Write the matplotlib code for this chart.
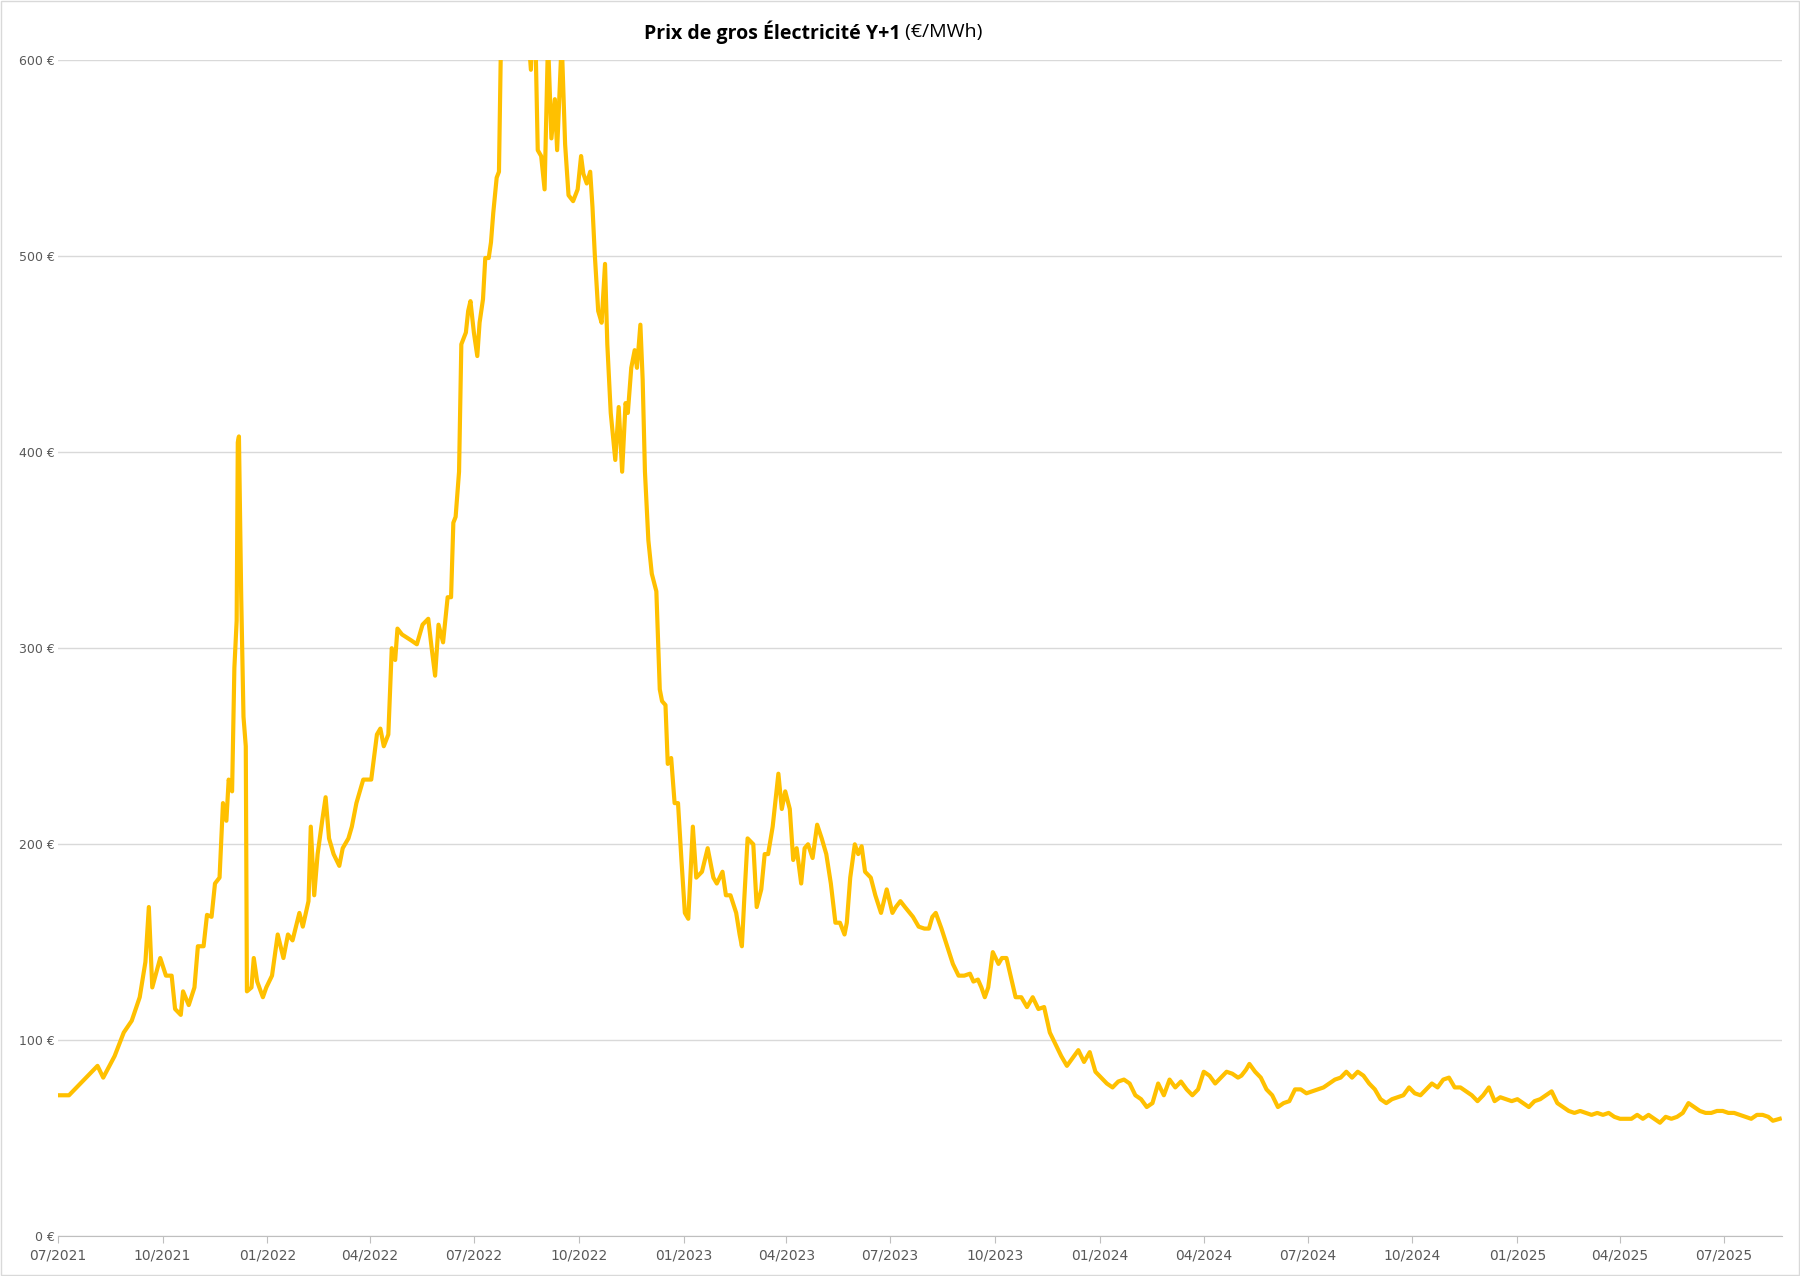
import pandas as pd
import matplotlib
matplotlib.use("Agg")
import matplotlib.pyplot as plt
import matplotlib.dates as mdates
from matplotlib.ticker import FuncFormatter

START = pd.Timestamp("2021-07-01")

# (days since 2021-07-01, price EUR/MWh)
readings = [
    (0, 72), (10, 72), (20, 78), (30, 84), (35, 87), (40, 81), (50, 92), (58, 104), (65, 110), (72, 122),
    (77, 140), (80, 168), (83, 127), (90, 142), (95, 133), (100, 133), (103, 116), (108, 113), (110, 125), (115, 118),
    (120, 127), (123, 148), (128, 148), (131, 164), (135, 163), (138, 180), (142, 183), (145, 221), (148, 212), (150, 233),
    (153, 227), (155, 290), (157, 314), (158, 405), (159, 408), (161, 326), (163, 265), (165, 250), (166, 125), (170, 127),
    (172, 142), (175, 130), (180, 122), (183, 127), (188, 133), (193, 154), (198, 142), (202, 154), (206, 151), (212, 165),
    (215, 158), (220, 171), (222, 209), (225, 174), (228, 195), (232, 212), (235, 224), (238, 203), (242, 195), (247, 189),
    (250, 198), (255, 203), (258, 209), (262, 221), (268, 233), (275, 233), (280, 256), (283, 259), (286, 250), (290, 256),
    (293, 300), (296, 294), (298, 310), (302, 307), (310, 304), (315, 302), (320, 312), (325, 315), (328, 300), (331, 286),
    (334, 312), (338, 303), (342, 326), (345, 326), (347, 364), (349, 367), (352, 390), (354, 455), (358, 461), (360, 472),
    (362, 477), (365, 461), (368, 449), (370, 466), (373, 478), (375, 499), (378, 499), (380, 507), (382, 522), (385, 540),
    (387, 543), (389, 620), (393, 760), (398, 900), (403, 1000), (408, 880), (410, 700), (412, 620), (415, 595), (418, 640),
    (421, 554), (424, 551), (427, 534), (430, 610), (433, 560), (436, 580), (438, 554), (442, 610), (445, 557), (448, 531),
    (452, 528), (456, 534), (459, 551), (461, 542), (464, 537), (467, 543), (469, 525), (471, 501), (474, 472), (477, 466),
    (480, 496), (482, 455), (485, 420), (487, 408), (489, 396), (492, 423), (495, 390), (498, 425), (500, 420), (503, 443),
    (506, 452), (508, 443), (511, 465), (513, 437), (515, 390), (518, 355), (521, 338), (525, 329), (528, 279), (530, 273),
    (533, 271), (535, 241), (538, 244), (541, 221), (544, 221), (547, 192), (550, 165), (553, 162), (557, 209), (560, 183),
    (565, 186), (570, 198), (575, 183), (578, 180), (583, 186), (586, 174), (590, 174), (595, 165), (598, 154), (600, 148),
    (602, 171), (605, 203), (610, 200), (613, 168), (617, 177), (620, 195), (623, 195), (627, 209), (632, 236), (635, 218),
    (638, 227), (642, 218), (645, 192), (648, 198), (652, 180), (655, 198), (658, 200), (662, 193), (666, 210), (670, 203),
    (674, 195), (678, 180), (682, 160), (686, 160), (690, 154), (692, 160), (695, 183), (699, 200), (702, 195), (705, 199),
    (708, 186), (713, 183), (717, 174), (722, 165), (727, 177), (732, 165), (735, 168), (739, 171), (743, 168), (750, 163),
    (755, 158), (760, 157), (764, 157), (767, 163), (770, 165), (775, 157), (780, 148), (785, 139), (790, 133), (795, 133),
    (800, 134), (803, 130), (807, 131), (810, 127), (813, 122), (816, 127), (820, 145), (825, 139), (828, 142), (832, 142),
    (836, 132), (840, 122), (845, 122), (850, 117), (855, 122), (860, 116), (865, 117), (870, 104), (875, 98), (880, 92),
    (885, 87), (890, 91), (895, 95), (900, 89), (905, 94), (910, 84), (915, 81), (920, 78), (925, 76), (930, 79),
    (935, 80), (940, 78), (945, 72), (950, 70), (955, 66), (960, 68), (965, 78), (970, 72), (975, 80), (980, 76),
    (985, 79), (990, 75), (995, 72), (1000, 75), (1005, 84), (1010, 82), (1015, 78), (1020, 81), (1025, 84), (1030, 83),
    (1035, 81), (1038, 82), (1042, 85), (1045, 88), (1050, 84), (1055, 81), (1060, 75), (1065, 72), (1070, 66), (1075, 68),
    (1080, 69), (1085, 75), (1090, 75), (1095, 73), (1100, 74), (1105, 75), (1110, 76), (1115, 78), (1120, 80), (1125, 81),
    (1130, 84), (1135, 81), (1140, 84), (1145, 82), (1150, 78), (1155, 75), (1160, 70), (1165, 68), (1170, 70), (1175, 71),
    (1180, 72), (1185, 76), (1190, 73), (1195, 72), (1200, 75), (1205, 78), (1210, 76), (1215, 80), (1220, 81), (1225, 76),
    (1230, 76), (1235, 74), (1240, 72), (1245, 69), (1250, 72), (1255, 76), (1260, 69), (1265, 71), (1270, 70), (1275, 69),
    (1280, 70), (1285, 68), (1290, 66), (1295, 69), (1300, 70), (1305, 72), (1310, 74), (1315, 68), (1320, 66), (1325, 64),
    (1330, 63), (1335, 64), (1340, 63), (1345, 62), (1350, 63), (1355, 62), (1360, 63), (1365, 61), (1370, 60), (1375, 60),
    (1380, 60), (1385, 62), (1390, 60), (1395, 62), (1400, 60), (1405, 58), (1410, 61), (1415, 60), (1420, 61), (1425, 63),
    (1430, 68), (1435, 66), (1440, 64), (1445, 63), (1450, 63), (1455, 64), (1460, 64), (1465, 63), (1470, 63), (1475, 62),
    (1480, 61), (1485, 60), (1490, 62), (1495, 62), (1500, 61), (1504, 59), (1510, 60),
]
days = [d for d, _ in readings]
prices = [p for _, p in readings]
dates = [START + pd.Timedelta(days=d) for d in days]

tick_dates = pd.date_range("2021-07-01", "2025-07-01", freq="3MS")

fig = plt.figure(figsize=(18, 12.76), dpi=100)
ax = fig.add_axes([0.032, 0.031, 0.958, 0.922])

ax.plot(dates, prices, color="#FFC000", linewidth=3, solid_joinstyle="round")

ax.set_ylim(0, 600)
ax.set_xlim(START, START + pd.Timedelta(days=1512))
ax.set_yticks(range(0, 601, 100))
ax.yaxis.set_major_formatter(FuncFormatter(lambda v, p: f"{int(v)} €"))
ax.set_xticks(tick_dates)
ax.xaxis.set_major_formatter(mdates.DateFormatter("%m/%Y"))
ax.grid(axis="y", color="#D9D9D9", linewidth=1)
ax.set_axisbelow(True)
for s in ["top", "right", "left"]:
    ax.spines[s].set_visible(False)
ax.spines["bottom"].set_color("#BFBFBF")
ax.tick_params(axis="y", length=0, labelsize=9, labelcolor="#595959", pad=2)
ax.tick_params(axis="x", length=5, color="#BFBFBF", labelsize=10, labelcolor="#595959")

fig.text(0.5, 0.975, "Prix de gros Électricité Y+1", ha="right", va="center",
         fontsize=14, fontweight="bold", color="black", family="Open Sans")
fig.text(0.5, 0.975, " (€/MWh)", ha="left", va="center",
         fontsize=14, color="black", family="Open Sans")

fig.patches.append(plt.Rectangle((0.0005, 0.0005), 0.999, 0.999, transform=fig.transFigure,
                                 fill=False, edgecolor="#D9D9D9", linewidth=1))

fig.savefig("out.png", dpi=100)
